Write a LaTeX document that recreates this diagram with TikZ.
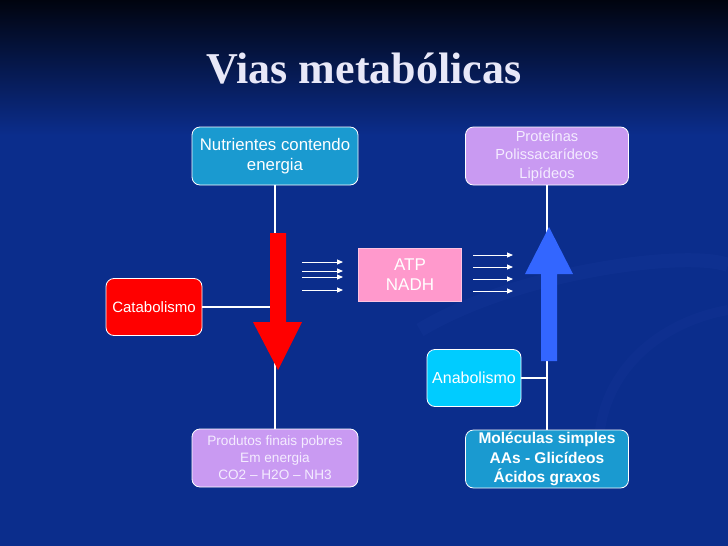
\documentclass[tikz,border=0pt]{standalone}
\usepackage{fontspec}
\setmainfont{Liberation Sans}
\newfontfamily\titlefont{Liberation Serif}
\usetikzlibrary{arrows.meta}
\definecolor{bgblue}{HTML}{0B2D8C}
\definecolor{bgtop}{HTML}{01040F}
\definecolor{teal}{HTML}{1A9AD0}
\definecolor{lav}{HTML}{C99AF2}
\definecolor{lavtext}{HTML}{F4ECFF}
\definecolor{catred}{HTML}{FF0000}
\definecolor{atppink}{HTML}{FF99CC}
\definecolor{anacyan}{HTML}{00CCFF}
\definecolor{arrblue}{HTML}{3366FF}
\definecolor{titlecol}{HTML}{E8E8F8}
\definecolor{swirl}{HTML}{1A3A9C}
\tikzset{
  box/.style={draw=white, line width=0.8pt, rounded corners=8pt, inner sep=0pt, align=center, text=white},
  conn/.style={draw=white, line width=1.6pt},
  small/.style={draw=white, line width=0.9pt, -{Triangle[length=6pt,width=5pt]}},
}
\begin{document}
\begin{tikzpicture}[x=1pt,y=-1pt]
\useasboundingbox (0,0) rectangle (728,546);
\fill[bgblue] (0,0) rectangle (728,546);
\shade[top color=bgtop, bottom color=bgblue] (0,0) rectangle (728,135);
% faint swirl decoration
\draw[swirl, line width=14pt, opacity=0.25] (420,330) .. controls (520,270) and (690,250) .. (728,265);
\draw[swirl, line width=10pt, opacity=0.2] (600,430) .. controls (610,360) and (670,320) .. (728,310);
% title
\node[font=\titlefont\bfseries\fontsize{44}{50}\selectfont, text=titlecol] (title) at (364,69) {Vias metabólicas};
% boxes
\node[box, fill=teal, minimum width=166pt, minimum height=58pt, font=\fontsize{16.8}{20}\selectfont] (nutr) at (275,156) {Nutrientes contendo\\energia};
\node[box, fill=lav, text=lavtext, minimum width=163pt, minimum height=58pt, font=\fontsize{14.6}{18.5}\selectfont] (prot) at (547,156) {Proteínas\\Polissacarídeos\\Lipídeos};
\node[box, fill=catred, minimum width=96pt, minimum height=57pt, font=\fontsize{15}{18}\selectfont] (cat) at (154,307) {Catabolismo};
\node[draw=atppink!60!white, line width=0.6pt, fill=atppink, text=white, inner sep=0pt, align=center, minimum width=103pt, minimum height=53pt, font=\fontsize{17}{20}\selectfont] (atp) at (410,275) {ATP\\NADH};
\node[box, fill=anacyan, minimum width=94pt, minimum height=57pt, font=\fontsize{16}{18}\selectfont] (ana) at (474,378) {Anabolismo};
\node[box, fill=lav, text=lavtext, minimum width=166pt, minimum height=58pt, font=\fontsize{13.6}{17}\selectfont] (prod) at (275,458) {Produtos finais pobres\\Em energia\\CO2 – H2O – NH3};
\node[box, fill=teal, minimum width=163pt, minimum height=58pt, font=\bfseries\fontsize{15.5}{19.5}\selectfont] (mol) at (547,459) {Moléculas simples\\AAs - Glicídeos\\Ácidos graxos};
% connectors
\draw[conn] (nutr.south) -- (prod.north);
\draw[conn] (cat.east) -- (cat.east -| nutr.south);
\draw[conn] (mol.north) -- (prot.south);
\draw[conn] (ana.east) -- (ana.east -| mol.north);
% big arrows
\fill[catred] (270,233) -- (286,233) -- (286,322) -- (302,322) -- (278,370) -- (253,322) -- (270,322) -- cycle;
\fill[arrblue] (541,361) -- (557,361) -- (557,274) -- (573,274) -- (549,227) -- (525,274) -- (541,274) -- cycle;
% small arrows
\coordinate (l1s) at (302,262); \coordinate (l1e) at (343,262);
\coordinate (l2s) at (302,271); \coordinate (l2e) at (343,271);
\coordinate (l3s) at (302,277); \coordinate (l3e) at (343,277);
\coordinate (l4s) at (302,290); \coordinate (l4e) at (343,290);
\coordinate (r1s) at (473,255); \coordinate (r1e) at (513,255);
\coordinate (r2s) at (473,267); \coordinate (r2e) at (513,267);
\coordinate (r3s) at (473,279); \coordinate (r3e) at (513,279);
\coordinate (r4s) at (473,291); \coordinate (r4e) at (513,291);
\foreach \a in {l1,l2,l3,l4,r1,r2,r3,r4} \draw[small] (\a s) -- (\a e);
\end{tikzpicture}
\end{document}
